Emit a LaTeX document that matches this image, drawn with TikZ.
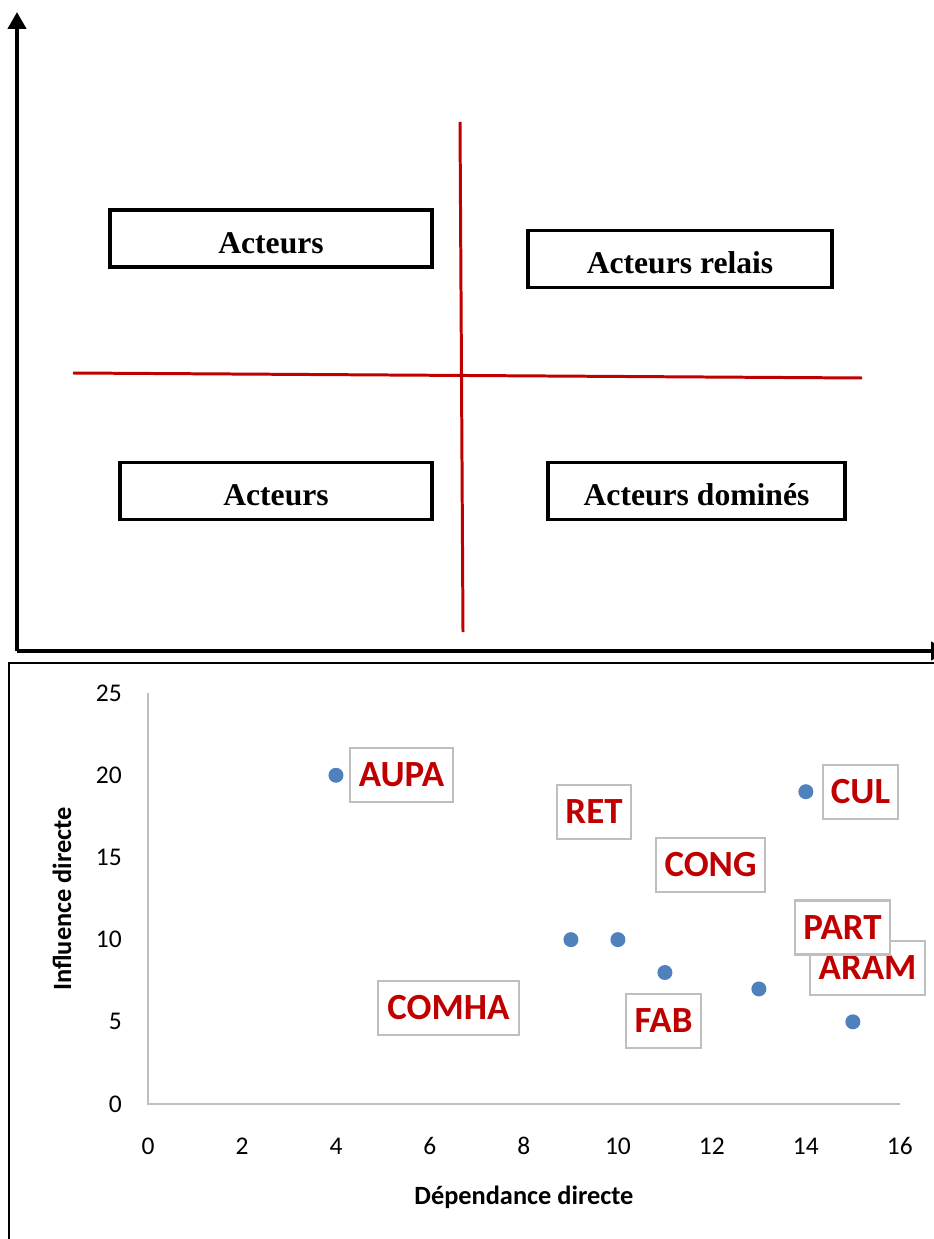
\documentclass[tikz,border=0pt]{standalone}
\usepackage{fontspec}
\setmainfont{Liberation Serif}
\newfontfamily\chartfont{Carlito}
\usetikzlibrary{arrows.meta}
\definecolor{darkred}{HTML}{C00000}
\definecolor{dotblue}{HTML}{4F81BD}
\definecolor{axisgray}{HTML}{BFBFBF}
\tikzset{
  quadbox/.style={draw, line width=2pt, inner sep=0pt, minimum height=1.14cm, text height=17pt, text depth=0pt, font=\fontsize{18}{20}\selectfont\bfseries},
  redline/.style={darkred, line width=1.7pt},
  mainaxis/.style={line width=2.8pt, -{Triangle[width=0.36cm, length=0.34cm]}},
  actor/.style={draw=axisgray, line width=1.4pt, fill=white, inner sep=0pt, minimum height=1.08cm, text=darkred, font=\chartfont\fontsize{21}{23}\selectfont\bfseries},
  tick/.style={font=\chartfont\fontsize{14.5}{16}\selectfont, inner sep=0pt}
}

\begin{document}
\begin{tikzpicture}[x=0.02cm, y=-0.02cm]
\useasboundingbox (0,0) rectangle (933,1239);

% upper panel
\coordinate (O) at (17,651);
\draw[mainaxis] (O) -- (17,12);
\draw[mainaxis] (O) -- (948,651);
\draw[redline] (460,122) -- (463,632);
\draw[redline] (73,373) -- (862,378);
\node[quadbox, minimum width=6.44cm] (tl) at (271,238.5) {Acteurs};
\node[quadbox, minimum width=6.08cm] (tr) at (680,259) {Acteurs relais};
\node[quadbox, minimum width=6.24cm] (bl) at (276,491) {Acteurs};
\node[quadbox, minimum width=5.94cm] (br) at (696.5,491) {Acteurs dominés};

% lower panel
\draw[line width=1.3pt] (9,1245) -- (9,663) -- (945,663);
\begin{scope}[shift={(148,1104)}, x=0.94cm, y=0.3288cm]
\draw[axisgray, line width=1pt] (0,25) -- (0,0) -- (16,0);
\foreach \y in {0,5,...,25}
\node[tick, anchor=east] at (-0.55,\y) {\y};
\foreach \x in {0,2,...,16}
\node[tick] at (\x,-2.55) {\x};
\node[font=\chartfont\fontsize{15}{17}\selectfont\bfseries] (xt) at (8,-5.66) {Dépendance directe};
\node[font=\chartfont\fontsize{15}{17}\selectfont\bfseries, rotate=90] (yt) at (-1.83,12.47) {Influence directe};
\foreach \px/\py in {4/20, 14/19, 9/10, 10/10, 11/8, 13/7, 15/5}
\fill[dotblue] (\px,\py) circle (0.15cm);
\end{scope}
\node[actor, minimum width=2.06cm] (aupa) at (401.5,775) {AUPA};
\node[actor, minimum width=1.48cm] (ret) at (594,812) {RET};
\node[actor, minimum width=2.18cm] (cong) at (710.5,865) {CONG};
\node[actor, minimum width=1.5cm] (cul) at (860.5,792) {CUL};
\node[actor, minimum width=2.3cm] (aram) at (867.5,968) {ARAM};
\node[actor, minimum width=1.9cm] (part) at (842.5,927.5) {PART};
\node[actor, minimum width=1.5cm] (fab) at (663.5,1021) {FAB};
\node[actor, minimum width=2.82cm] (comha) at (448.5,1008) {COMHA};
\end{tikzpicture}
\end{document}
